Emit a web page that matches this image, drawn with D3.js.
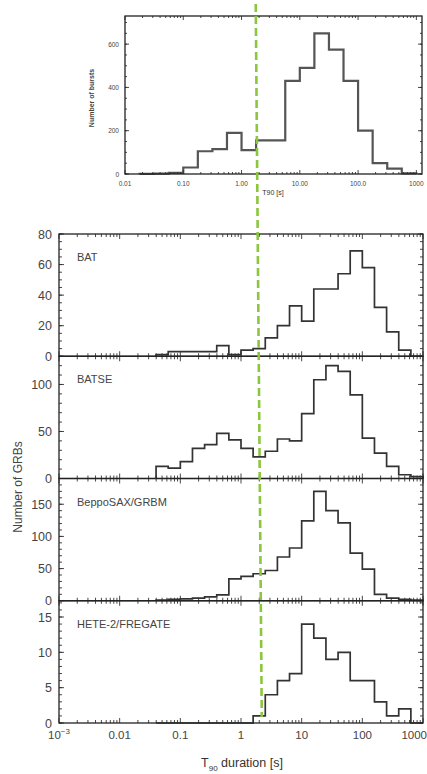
<!DOCTYPE html>
<html>
<head>
<meta charset="utf-8">
<script src="https://cdn.jsdelivr.net/npm/d3@7"></script>
<style>
  body { margin: 0; background: #fff; }
  svg { display: block; font-family: "Liberation Sans", Arial, sans-serif; }
</style>
</head>
<body>
<svg width="427" height="774"></svg>
<script>
// ---- top inset (log10 T90 bin edges, 0.25 dex) ----
var topEdges  = [-1.75,-1.5,-1.25,-1.0,-0.75,-0.5,-0.25,0,0.25,0.5,0.75,1.0,1.25,1.5,1.75,2.0,2.25,2.5,2.75,3.0];
var topCounts = [1,2,5,30,105,115,190,110,155,155,430,490,650,575,430,200,50,25,3];
var topYTicks = [0,200,400,600];
var topXTicks = [0.01,0.1,1,10,100,1000];
var topXLabels = ["0.01","0.10","1.00","10.00","100.0","1000"];

// ---- lower panels (log10 T90 bin edges, 0.2 dex) ----
var binEdges = [-1.4,-1.2,-1.0,-0.8,-0.6,-0.4,-0.2,0,0.2,0.4,0.6,0.8,1.0,1.2,1.4,1.6,1.8,2.0,2.2,2.4,2.6,2.8,3.0];
var batCounts   = [1,3,3,3,3,7,1,4,5,12,20,33,23,44,44,54,69,58,32,16,4,0];
var batseCounts = [13,11,18,32,36,48,41,32,23,29,42,40,69,105,120,114,89,43,27,13,4,2];
var saxCounts   = [1,2,3,4,6,9,34,38,42,47,68,82,124,170,140,121,74,49,10,4,2,1];
var heteCounts  = [0,0,0,0,0,0,0,0,1,4,6,7,14,12,9,10,6,6,3,1,2,0];

var panelNames  = ["BAT","BATSE","BeppoSAX/GRBM","HETE-2/FREGATE"];
var panelCounts = [batCounts, batseCounts, saxCounts, heteCounts];
var panelMax    = [80,130,190,17.3];
var panelYTicks = [[0,20,40,60,80],[0,50,100],[0,50,100,150],[0,5,10,15]];
var panelMinor  = [5,10,10,1];
var xTicks  = [0.001,0.01,0.1,1,10,100,1000];
var xLabels = ["10-3","0.01","0.1","1","10","100","1000"];

var cutLine = [1.75, 2.2];   // hand drawn dashed marker (s), top end / bottom end

var svg = d3.select("svg");

function stepPoints(edges, counts) {
  var p = [[edges[0], 0]];
  counts.forEach(function (c, i) {
    p.push([edges[i], c]);
    p.push([edges[i + 1], c]);
  });
  p.push([edges[edges.length - 1], 0]);
  return p;
}

function logMinor(x) {
  var dom = x.domain(), out = [];
  for (var e = -4; e <= 4; e++) {
    for (var k = 2; k <= 9; k++) {
      var v = k * Math.pow(10, e);
      if (v > dom[0] && v < dom[1]) out.push(v);
    }
  }
  return out;
}

function linMinor(y, step) {
  var dom = y.domain(), out = [];
  for (var v = 0; v <= dom[1]; v += step) out.push(v);
  return out;
}

function frame(g, x, y, major, minorX, yMajor, yMinor, maj, mnr) {
  var x0 = x.range()[0], x1 = x.range()[1], y0 = y.range()[0], y1 = y.range()[1];
  var t = g.append("g").attr("stroke", "#333").attr("stroke-width", 0.9);
  major.forEach(function (v) {
    t.append("line").attr("x1", x(v)).attr("x2", x(v)).attr("y1", y0).attr("y2", y0 - maj);
    t.append("line").attr("x1", x(v)).attr("x2", x(v)).attr("y1", y1).attr("y2", y1 + maj);
  });
  minorX.forEach(function (v) {
    t.append("line").attr("x1", x(v)).attr("x2", x(v)).attr("y1", y0).attr("y2", y0 - mnr);
    t.append("line").attr("x1", x(v)).attr("x2", x(v)).attr("y1", y1).attr("y2", y1 + mnr);
  });
  yMajor.forEach(function (v) {
    t.append("line").attr("x1", x0).attr("x2", x0 + maj).attr("y1", y(v)).attr("y2", y(v));
    t.append("line").attr("x1", x1).attr("x2", x1 - maj).attr("y1", y(v)).attr("y2", y(v));
  });
  yMinor.forEach(function (v) {
    t.append("line").attr("x1", x0).attr("x2", x0 + mnr).attr("y1", y(v)).attr("y2", y(v));
    t.append("line").attr("x1", x1).attr("x2", x1 - mnr).attr("y1", y(v)).attr("y2", y(v));
  });
  g.append("rect").attr("x", x0).attr("y", y1).attr("width", x1 - x0).attr("height", y0 - y1)
    .attr("fill", "none").attr("stroke", "#222").attr("stroke-width", 1.3);
}

// ---------------- top inset ----------------
var tx = d3.scaleLog().domain([0.01, 1250]).range([125, 422]);
var ty = d3.scaleLinear().domain([0, 730]).range([174, 16]);
var gTop = svg.append("g");

gTop.append("path")
  .datum(stepPoints(topEdges, topCounts))
  .attr("fill", "none").attr("stroke", "#555").attr("stroke-width", 2.2)
  .attr("d", d3.line().x(function (d) { return tx(Math.pow(10, d[0])); }).y(function (d) { return ty(d[1]); }));

frame(gTop, tx, ty, topXTicks, logMinor(tx), topYTicks, linMinor(ty, 50), 4, 2);

gTop.selectAll(".txl").data(topXTicks).enter().append("text")
  .attr("x", function (d) { return tx(d); }).attr("y", 186)
  .attr("text-anchor", "middle").attr("font-size", 6.5).attr("fill", "#444")
  .text(function (d, i) { return topXLabels[i]; });
gTop.selectAll(".tyl").data(topYTicks).enter().append("text")
  .attr("x", 119).attr("y", function (d) { return ty(d) + 2.5; })
  .attr("text-anchor", "end").attr("font-size", 6.5).attr("fill", "#444")
  .text(function (d) { return d; });
gTop.append("text").attr("x", 273).attr("y", 195).attr("text-anchor", "middle")
  .attr("font-size", 7).attr("fill", "#333").text("T90 [s]");
gTop.append("text").attr("transform", "translate(94,98) rotate(-90)")
  .attr("text-anchor", "middle").attr("font-size", 7).attr("font-weight", "bold").attr("fill", "#444")
  .text("Number of bursts");

// ---------------- lower panels ----------------
var bx = d3.scaleLog().domain([0.001, 1000]).range([59, 423]);
var panelTop = 234, panelBottom = 723;
var band = d3.scaleBand().domain(panelNames).range([panelTop, panelBottom]).padding(0);

panelNames.forEach(function (name, i) {
  var g = svg.append("g");
  var y = d3.scaleLinear().domain([0, panelMax[i]])
    .range([band(name) + band.bandwidth(), band(name)]);

  g.append("path")
    .datum(stepPoints(binEdges, panelCounts[i]))
    .attr("fill", "none").attr("stroke", "#333").attr("stroke-width", 1.7)
    .attr("d", d3.line().x(function (d) { return bx(Math.pow(10, d[0])); }).y(function (d) { return y(d[1]); }));

  frame(g, bx, y, xTicks, logMinor(bx), panelYTicks[i], linMinor(y, panelMinor[i]), 5, 3);

  g.selectAll(".yl").data(panelYTicks[i]).enter().append("text")
    .attr("x", 52).attr("y", function (d) { return y(d) + 4.5; })
    .attr("text-anchor", "end").attr("font-size", 12.5).attr("fill", "#444")
    .text(function (d) { return d; });

  g.append("text").attr("x", 77).attr("y", band(name) + 27)
    .attr("font-size", 11).attr("fill", "#444").text(name);
});

// bottom tick labels (last one sits at the right edge, as in the original)
var xl = svg.append("g").selectAll("text").data(xTicks).enter().append("text")
  .attr("x", function (d, i) { return i === xTicks.length - 1 ? 427 : bx(d); }).attr("y", 739)
  .attr("text-anchor", function (d, i) { return i === xTicks.length - 1 ? "end" : "middle"; })
  .attr("font-size", 11.5).attr("fill", "#444");
xl.each(function (d, i) {
  var t = d3.select(this);
  if (i === 0) {
    t.append("tspan").text("10");
    t.append("tspan").attr("dy", -5).attr("font-size", 8).text("\u22123");
  } else {
    t.text(xLabels[i]);
  }
});

var xt = svg.append("text").attr("x", 242).attr("y", 767).attr("text-anchor", "middle")
  .attr("font-size", 12.5).attr("fill", "#333");
xt.append("tspan").text("T");
xt.append("tspan").attr("dy", 4).attr("font-size", 8).text("90");
xt.append("tspan").attr("dy", -4).text(" duration [s]");

svg.append("text").attr("transform", "translate(22,487) rotate(-90)")
  .attr("text-anchor", "middle").attr("font-size", 12).attr("fill", "#444")
  .text("Number of GRBs");

// green dashed marker across all panels
svg.append("line")
  .attr("x1", bx(cutLine[0])).attr("y1", 4)
  .attr("x2", bx(cutLine[1])).attr("y2", 717)
  .attr("stroke", "#8cc63f").attr("stroke-width", 2.6)
  .attr("stroke-dasharray", "8,4");
</script>
</body>
</html>
